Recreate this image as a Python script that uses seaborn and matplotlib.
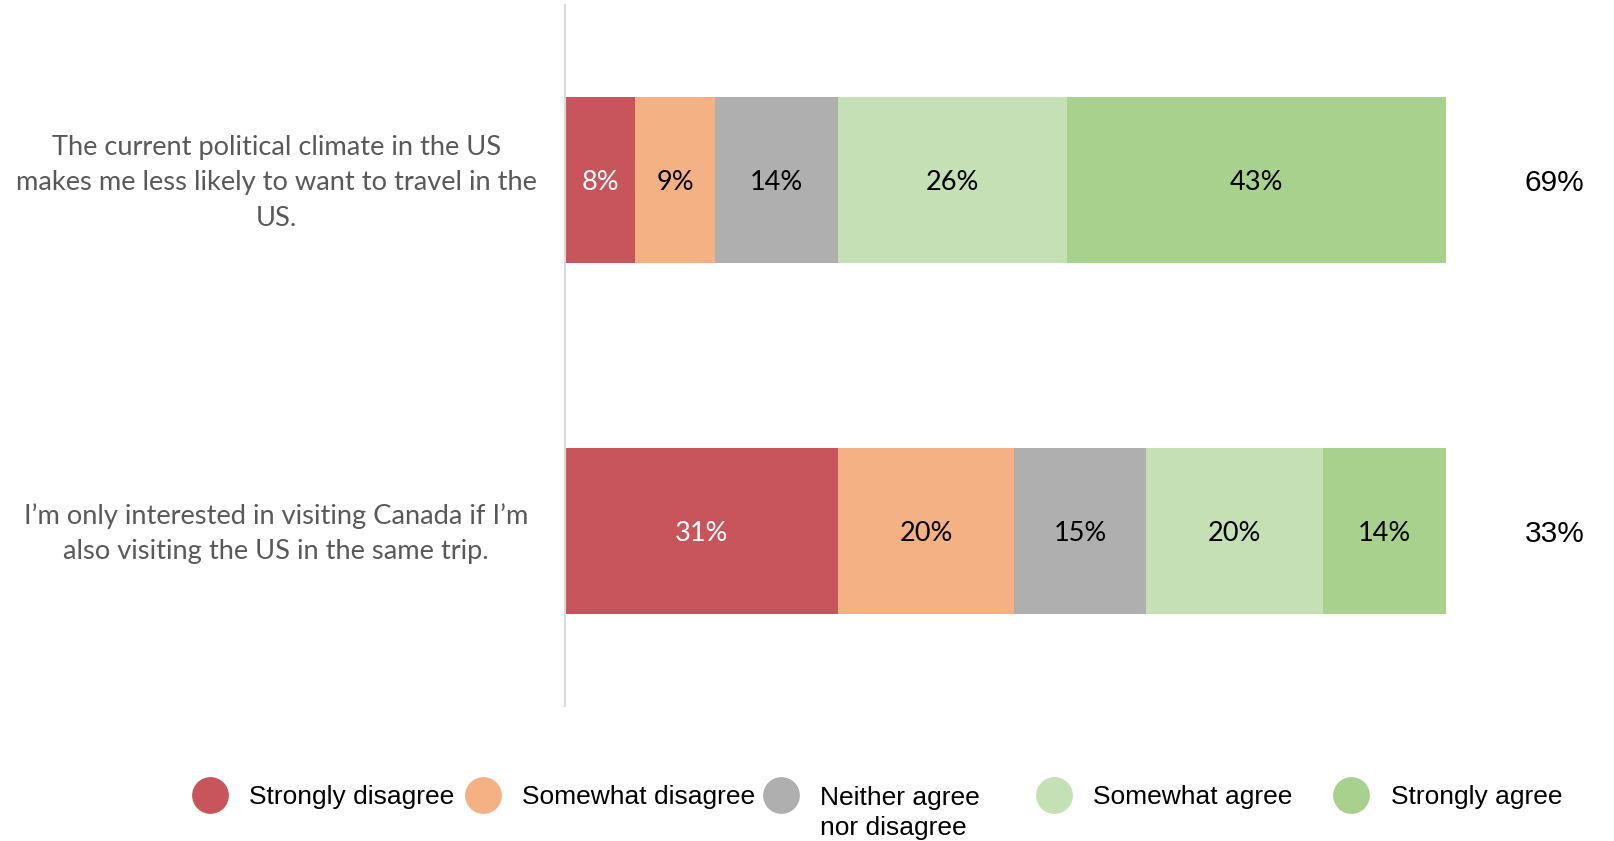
import numpy as np
import matplotlib
matplotlib.use("Agg")
import matplotlib.pyplot as plt
import matplotlib.transforms as mtransforms
import seaborn as sns

# Survey statements and response categories
statements = [
    "The current political climate in the US\nmakes me less likely to want to travel in the\nUS.",
    "I’m only interested in visiting Canada if I’m\nalso visiting the US in the same trip.",
]
responses = ["Strongly disagree", "Somewhat disagree", "Neither agree\nnor disagree",
             "Somewhat agree", "Strongly agree"]

# Share of respondents (%) per statement
strongly_disagree = [8, 31]
somewhat_disagree = [9, 20]
neither = [14, 15]
somewhat_agree = [26, 20]
strongly_agree = [43, 14]
net_agree = [69, 33]

colors = ["#C8545C", "#F4B183", "#AFAFAF", "#C5E0B4", "#A9D18E"]
label_colors = ["white", "black", "black", "black", "black"]

sns.set_theme(style="white")
plt.rcParams["font.family"] = ["Liberation Sans", "DejaVu Sans"]

W, H = 1614, 841
fig = plt.figure(figsize=(W / 100, H / 100), dpi=100)
fig.patch.set_facecolor("white")

ax = fig.add_axes([565 / W, (H - 706) / H, 881 / W, 701 / H])

series = np.array([strongly_disagree, somewhat_disagree, neither, somewhat_agree, strongly_agree])
cum = np.cumsum(series, axis=0)

# Stacked bars: draw cumulative totals from the widest down so each segment shows
for i in reversed(range(len(responses))):
    sns.barplot(x=list(cum[i]), y=statements, orient="h", color=colors[i],
                saturation=1, width=0.473, edgecolor="none", linewidth=0, ax=ax)

for j in range(len(statements)):
    for i in range(len(responses)):
        v = series[i][j]
        ax.text(cum[i][j] - v / 2, j, f"{v}%", ha="center", va="center_baseline",
                fontsize=19.5, family="Lato", color=label_colors[i])
    ax.text(112.3, j, f"{net_agree[j]}%", ha="center", va="center_baseline",
            fontsize=21.5, color="black", clip_on=False)

ax.set_xlim(0, 100)
ax.set_ylim(1.5, -0.5)
ax.set_xlabel("")
ax.set_ylabel("")
ax.set_xticks([])
ax.set_yticks([0, 1])
ax.set_yticklabels(statements, ha="center", color="#595959", fontsize=19.6,
                   family="Lato", linespacing=1.52)
ax.tick_params(axis="y", length=0, pad=208)
lift = mtransforms.ScaledTranslation(0, 5 / 100, fig.dpi_scale_trans)
for lbl in ax.get_yticklabels():
    lbl.set_transform(lbl.get_transform() + lift)
for side in ["top", "right", "bottom"]:
    ax.spines[side].set_visible(False)
ax.spines["left"].set_color("#D9D9D9")
ax.spines["left"].set_linewidth(1.5)

# Legend row along the bottom, laid out in pixel coordinates
lax = fig.add_axes([0, 0, 1, 1], zorder=-1)
lax.set_xlim(0, W)
lax.set_ylim(H, 0)
lax.axis("off")
marker_x = [210, 483, 781, 1054, 1351]
text_x = [249, 522, 820, 1093, 1391]
for k, name in enumerate(responses):
    lax.plot(marker_x[k], 795, marker="o", markersize=26.5, color=colors[k],
             markeredgewidth=0, linestyle="none")
    y = 797 + 16 * name.count("\n")
    lax.text(text_x[k], y, name, ha="left", va="center", fontsize=19,
             color="black", linespacing=1.27)

fig.savefig("out.png", dpi=100, facecolor="white")
